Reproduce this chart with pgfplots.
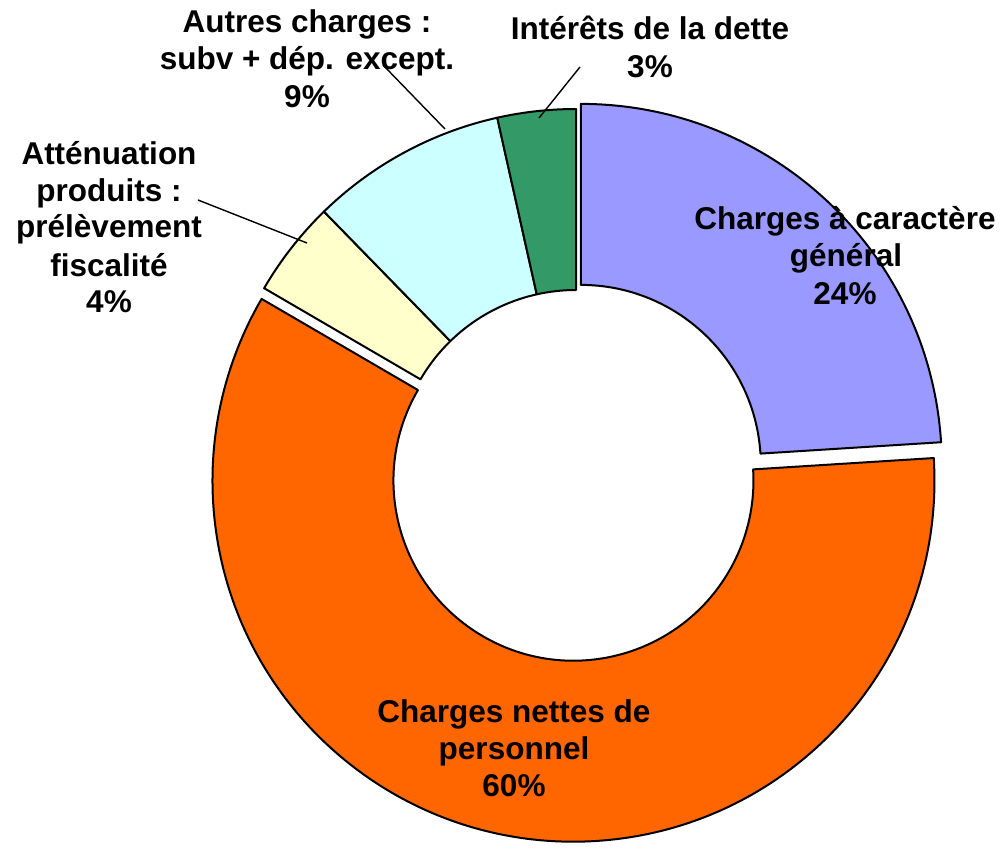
\documentclass[border=0pt]{standalone}
\usepackage{pgfplots}
\usepackage{pgfplotstable}
\pgfplotsset{compat=1.18}
\usepackage{fontspec}
\setmainfont{Liberation Sans}
\definecolor{cblue}{HTML}{9999FF}
\definecolor{corange}{HTML}{FF6600}
\definecolor{cyellow}{HTML}{FFFFCC}
\definecolor{ccyan}{HTML}{CCFFFF}
\definecolor{cgreen}{HTML}{339966}

% share (%) and explode offset (pt) of each slice, clockwise from the top
\pgfplotstableread{
share explode
24.0 7
59.4 11
4.3 0
8.8 0
3.5 0
}\donut

\def\Ro{361}
\def\Ri{180}

% compute slice geometry
\newcommand\slicegeom[2]{% #1 row, #2 name
  \pgfplotstablegetelem{#1}{share}\of\donut
  \pgfmathsetmacro\tmpshare{\pgfplotsretval}%
  \pgfplotstablegetelem{#1}{explode}\of\donut
  \pgfmathsetmacro\tmpexp{\pgfplotsretval}%
  \expandafter\let\csname s#2\endcsname\curang
  \pgfmathsetmacro\curang{\curang-3.6*\tmpshare}%
  \expandafter\let\csname e#2\endcsname\curang
  \pgfmathsetmacro\tmpmid{(\csname s#2\endcsname+\csname e#2\endcsname)/2}%
  \pgfmathsetmacro\tmpcx{\tmpexp*cos(\tmpmid)}%
  \pgfmathsetmacro\tmpcy{\tmpexp*sin(\tmpmid)}%
  \expandafter\let\csname cx#2\endcsname\tmpcx
  \expandafter\let\csname cy#2\endcsname\tmpcy
}
\def\curang{90}
\slicegeom{0}{A}
\slicegeom{1}{B}
\slicegeom{2}{C}
\slicegeom{3}{D}
\slicegeom{4}{E}

\newcommand\slice[2]{% #1 name, #2 colour
  \edef\tmp{\noexpand\filldraw[fill=#2,draw=black,line width=2pt,line join=round]
    (axis cs:{\csname cx#1\endcsname+\Ro*cos(\csname s#1\endcsname)},{\csname cy#1\endcsname+\Ro*sin(\csname s#1\endcsname)})
    arc[start angle=\csname s#1\endcsname,end angle=\csname e#1\endcsname,radius=\Ro pt]
    -- (axis cs:{\csname cx#1\endcsname+\Ri*cos(\csname e#1\endcsname)},{\csname cy#1\endcsname+\Ri*sin(\csname e#1\endcsname)})
    arc[start angle=\csname e#1\endcsname,end angle=\csname s#1\endcsname,radius=\Ri pt]
    -- cycle;}\tmp
}
\newcommand\lab[3]{\node[anchor=base,inner sep=0pt] at (axis cs:{#1-576},{470-#2}) {#3};}
\newcommand\lead[4]{\draw[black,line width=1.4pt] (axis cs:{#1-576},{470-#2}) -- (axis cs:{#3-576},{470-#4});}

\begin{document}
\begin{tikzpicture}
\begin{axis}[
  x=1pt, y=1pt,
  xmin=-576, xmax=429, ymin=-376, ymax=470,
  hide axis, clip=false,
]
\path (axis cs:-576,-376) rectangle (axis cs:429,470);
\slice{A}{cblue}
\slice{B}{corange}
\slice{C}{cyellow}
\slice{D}{ccyan}
\slice{E}{cgreen}
\lead{198}{200}{307}{243}
\lead{383}{65}{445}{129}
\lead{580}{67}{539}{118}
\begin{scope}[font=\fontsize{31.5}{37.5}\selectfont\bfseries]
\lab{845}{230}{Charges à caractère}
\lab{846}{267}{général}
\lab{845}{305}{24\%}
\lab{514}{722}{Charges nettes de}
\lab{514}{760}{personnel}
\lab{514}{797}{60\%}
\lab{109}{165}{Atténuation}
\lab{109}{202}{produits :}
\lab{109}{238}{prélèvement}
\lab{109}{277}{fiscalité}
\lab{109}{313}{4\%}
\lab{307}{33}{Autres charges :}
\lab{307}{70}{subv + dép. except.}
\lab{307}{108}{9\%}
\lab{650}{40}{Intérêts de la dette}
\lab{650}{78}{3\%}
\end{scope}
\end{axis}
\end{tikzpicture}
\end{document}
